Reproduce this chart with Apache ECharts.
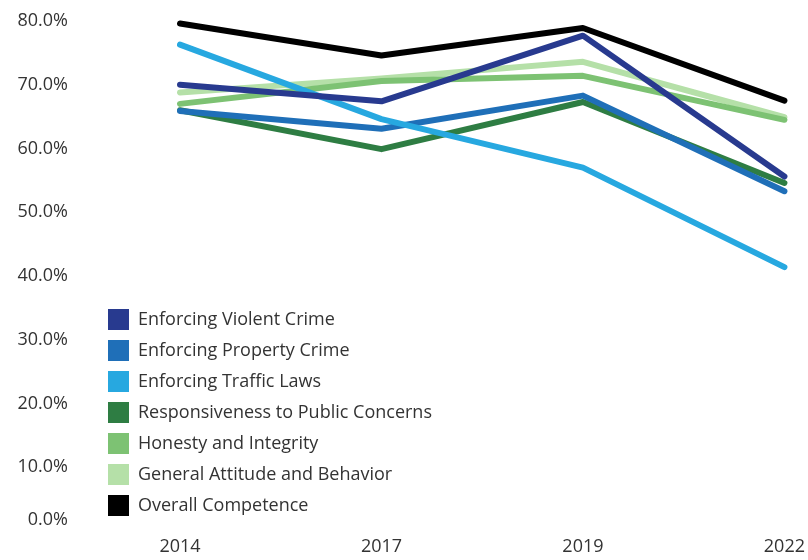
<!DOCTYPE html>
<html>
<head>
<meta charset="utf-8">
<script src="https://cdn.jsdelivr.net/npm/echarts@6/dist/echarts.min.js"></script>
<style>
  html, body { margin: 0; padding: 0; background: #fff; }
  #main { width: 808px; height: 560px; }
</style>
</head>
<body>
<div id="main"></div>
<script>
// survey years
var years = ['2014', '2017', '2019', '2022'];

// share satisfied, %
var violentCrime   = [70.0, 67.4, 77.7, 55.6];
var propertyCrime  = [65.9, 63.1, 68.3, 53.3];
var trafficLaws    = [76.3, 64.6, 57.0, 41.4];
var responsiveness = [66.0, 59.9, 67.3, 54.6];
var honesty        = [67.0, 70.6, 71.4, 64.5];
var attitude       = [68.8, 71.0, 73.6, 64.9];
var overall        = [79.6, 74.6, 78.9, 67.5];

var legendOrder = [
    'Enforcing Violent Crime',
    'Enforcing Property Crime',
    'Enforcing Traffic Laws',
    'Responsiveness to Public Concerns',
    'Honesty and Integrity',
    'General Attitude and Behavior',
    'Overall Competence'
];

var chart = echarts.init(document.getElementById('main'));

function line(name, data, color) {
    return {
        name: name,
        type: 'line',
        data: data,
        symbol: 'none',
        itemStyle: { color: color },
        lineStyle: { width: 6, color: color, cap: 'round', join: 'round' },
        emphasis: { disabled: true }
    };
}

var font = '"Open Sans", Lato, sans-serif';
var fs = 18;

var option = {
    backgroundColor: '#fff',
    animation: false,
    textStyle: { fontFamily: font },
    grid: { left: 180, right: 21, top: 21, bottom: 29 },
    legend: {
        data: legendOrder,
        orient: 'vertical',
        left: 108,
        top: 309,
        padding: 0,
        icon: 'rect',
        itemWidth: 21,
        itemHeight: 21,
        itemGap: 10,
        textStyle: { fontSize: fs, color: '#333', fontFamily: font, padding: [0, 0, 0, 4] }
    },
    xAxis: {
        type: 'category',
        data: years,
        boundaryGap: false,
        axisLine: { show: false },
        axisTick: { show: false },
        splitLine: { show: false },
        axisLabel: { color: '#333', fontSize: fs, margin: 7, fontFamily: font }
    },
    yAxis: {
        type: 'value',
        min: 0,
        max: 80,
        interval: 10,
        axisLine: { show: false },
        axisTick: { show: false },
        splitLine: { show: false },
        axisLabel: {
            color: '#333',
            fontSize: fs,
            margin: 112,
            fontFamily: font,
            formatter: function (v) {
                return v === 0 ? '{z|0.0%}' : v.toFixed(1) + '%';
            },
            rich: {
                z: { color: '#333', fontSize: fs, fontFamily: font, padding: [0, 0, 22, 0] }
            }
        }
    },
    series: [
        line('General Attitude and Behavior', attitude, '#b5e0a8'),
        line('Honesty and Integrity', honesty, '#7dc273'),
        line('Responsiveness to Public Concerns', responsiveness, '#2e7d43'),
        line('Enforcing Property Crime', propertyCrime, '#1f6fb8'),
        line('Enforcing Traffic Laws', trafficLaws, '#27a8e0'),
        line('Enforcing Violent Crime', violentCrime, '#283a8f'),
        line('Overall Competence', overall, '#000000')
    ]
};

chart.setOption(option);
</script>
</body>
</html>
